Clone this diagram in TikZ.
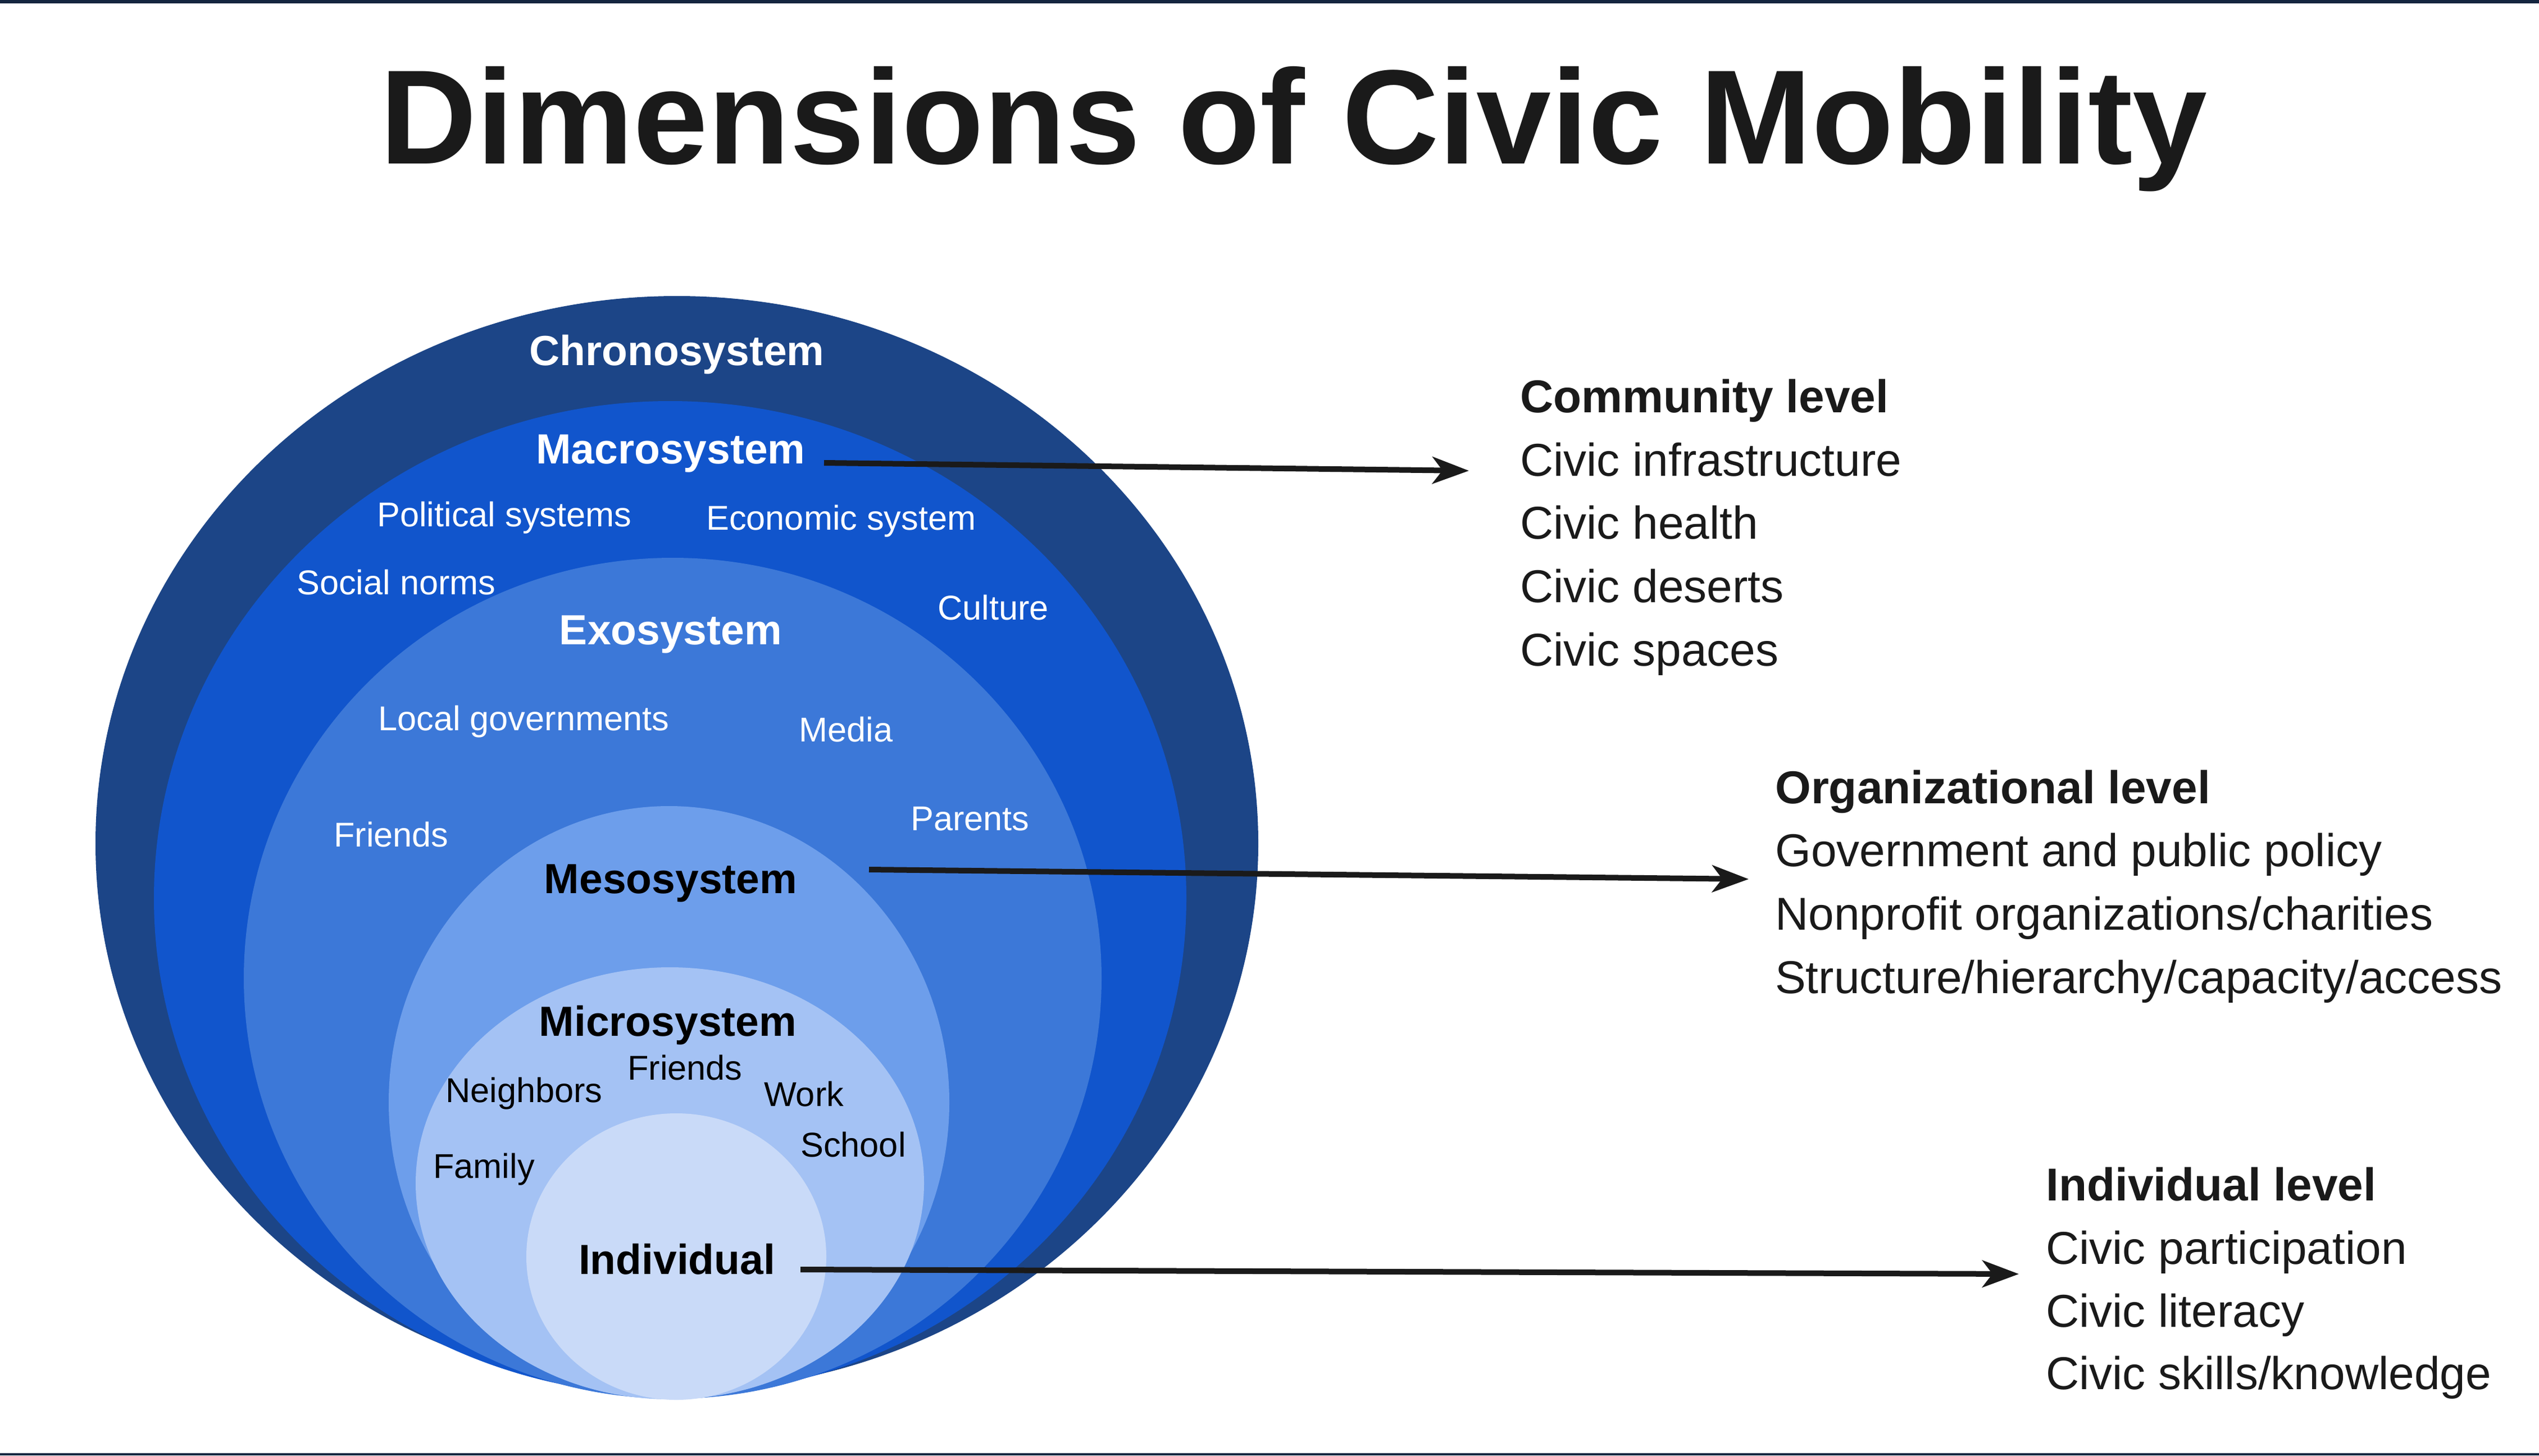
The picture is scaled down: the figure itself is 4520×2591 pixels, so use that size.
\documentclass[tikz,border=0pt]{standalone}
\usepackage{fontspec}
\setmainfont{Liberation Sans}
\usetikzlibrary{arrows.meta,shapes.geometric}
\definecolor{cchrono}{HTML}{1C4587}
\definecolor{cmacro}{HTML}{1155CC}
\definecolor{cexo}{HTML}{3C78D8}
\definecolor{cmeso}{HTML}{6D9EEB}
\definecolor{cmicro}{HTML}{A4C2F4}
\definecolor{cindiv}{HTML}{C9DAF8}
\definecolor{ink}{HTML}{1A1A1A}
\definecolor{navybar}{HTML}{13253F}
\tikzset{
  ring/.style={ellipse, inner sep=0pt, draw=none},
  lab/.style={font=\fontsize{61.3}{73}\selectfont, inner sep=0pt, anchor=base west},
  blab/.style={font=\fontsize{75}{90}\selectfont\bfseries, inner sep=0pt, anchor=base},
  rt/.style={font=\fontsize{82}{98}\selectfont, text=ink, inner sep=0pt, anchor=base west},
  rtb/.style={rt, font=\fontsize{82}{98}\selectfont\bfseries},
  arr/.style={draw=ink, line width=10pt, -{Stealth[length=65pt, width=48pt, inset=18pt]}},
}
\begin{document}
\begin{tikzpicture}[x=1pt, y=-1pt]
\useasboundingbox (0,0) rectangle (4520,2591);
\fill[white] (0,0) rectangle (4520,2591);
\fill[navybar] (0,0) rectangle (4520,6);
\fill[navybar] (0,2587) rectangle (4520,2591);

% title
\node[font=\fontsize{239}{287}\selectfont\bfseries, text=ink, inner sep=0pt, anchor=base west] (title) at (676,291) {Dimensions of Civic Mobility};

% nested ellipses
\node[ring, fill=cchrono, minimum width=2070pt, minimum height=1949pt] (chrono) at (1205,1501.5) {};
\node[ring, fill=cmacro, minimum width=1838pt, minimum height=1770pt] (macro) at (1193,1599) {};
\node[ring, fill=cexo, minimum width=1527pt, minimum height=1497pt] (exo) at (1197.5,1741.5) {};
\node[ring, fill=cmeso, minimum width=998pt, minimum height=1055pt] (meso) at (1191,1962.5) {};
\node[ring, fill=cmicro, minimum width=905pt, minimum height=769pt] (micro) at (1192.5,2106.5) {};
\node[ring, fill=cindiv, minimum width=534pt, minimum height=510pt] (indiv) at (1204,2237) {};

% system labels
\node[blab, text=white] (lchrono) at (1205,650) {Chronosystem};
\node[blab, text=white] (lmacro) at (1194,825) {Macrosystem};
\node[blab, text=white] (lexo) at (1194,1147) {Exosystem};
\node[blab, text=black] (lmeso) at (1194,1590) {Mesosystem};
\node[blab, text=black] (lmicro) at (1189,1844) {Microsystem};
\node[blab, text=black] (lindiv) at (1205,2268) {Individual};

% macrosystem items
\node[lab, text=white] (pol) at (671,937) {Political systems};
\node[lab, text=white] (eco) at (1257,943) {Economic system};
\node[lab, text=white] (soc) at (528,1058) {Social norms};
\node[lab, text=white] (cul) at (1669,1103) {Culture};
% exosystem items
\node[lab, text=white] (loc) at (673,1300) {Local governments};
\node[lab, text=white] (med) at (1422,1320) {Media};
\node[lab, text=white] (fre) at (594,1507) {Friends};
\node[lab, text=white] (par) at (1621,1478) {Parents};
% microsystem items
\node[lab, text=black] (nei) at (793,1962) {Neighbors};
\node[lab, text=black] (frm) at (1117,1922) {Friends};
\node[lab, text=black] (wor) at (1360,1969) {Work};
\node[lab, text=black] (sch) at (1425,2059) {School};
\node[lab, text=black] (fam) at (771,2097) {Family};

% right text blocks
\node[rtb] (c0) at (2706,734) {Community level};
\node[rt] (c1) at (2706,847) {Civic infrastructure};
\node[rt] (c2) at (2706,959) {Civic health};
\node[rt] (c3) at (2706,1072) {Civic deserts};
\node[rt] (c4) at (2706,1185) {Civic spaces};

\node[rtb] (o0) at (3160,1430) {Organizational level};
\node[rt] (o1) at (3160,1542) {Government and public policy};
\node[rt] (o2) at (3160,1655) {Nonprofit organizations/charities};
\node[rt] (o3) at (3160,1768) {Structure/hierarchy/capacity/access};

\node[rtb] (i0) at (3642,2137) {Individual level};
\node[rt] (i1) at (3642,2250) {Civic participation};
\node[rt] (i2) at (3642,2362) {Civic literacy};
\node[rt] (i3) at (3642,2473) {Civic skills/knowledge};

% arrows
\coordinate (a1s) at (1467,824);
\coordinate (a1e) at (2615,838);
\coordinate (a2s) at (1547,1548);
\coordinate (a2e) at (3113,1565);
\coordinate (a3s) at (1425,2260);
\coordinate (a3e) at (3594,2268);
\draw[arr] (a1s) -- (a1e);
\draw[arr] (a2s) -- (a2e);
\draw[arr] (a3s) -- (a3e);
\end{tikzpicture}
\end{document}
